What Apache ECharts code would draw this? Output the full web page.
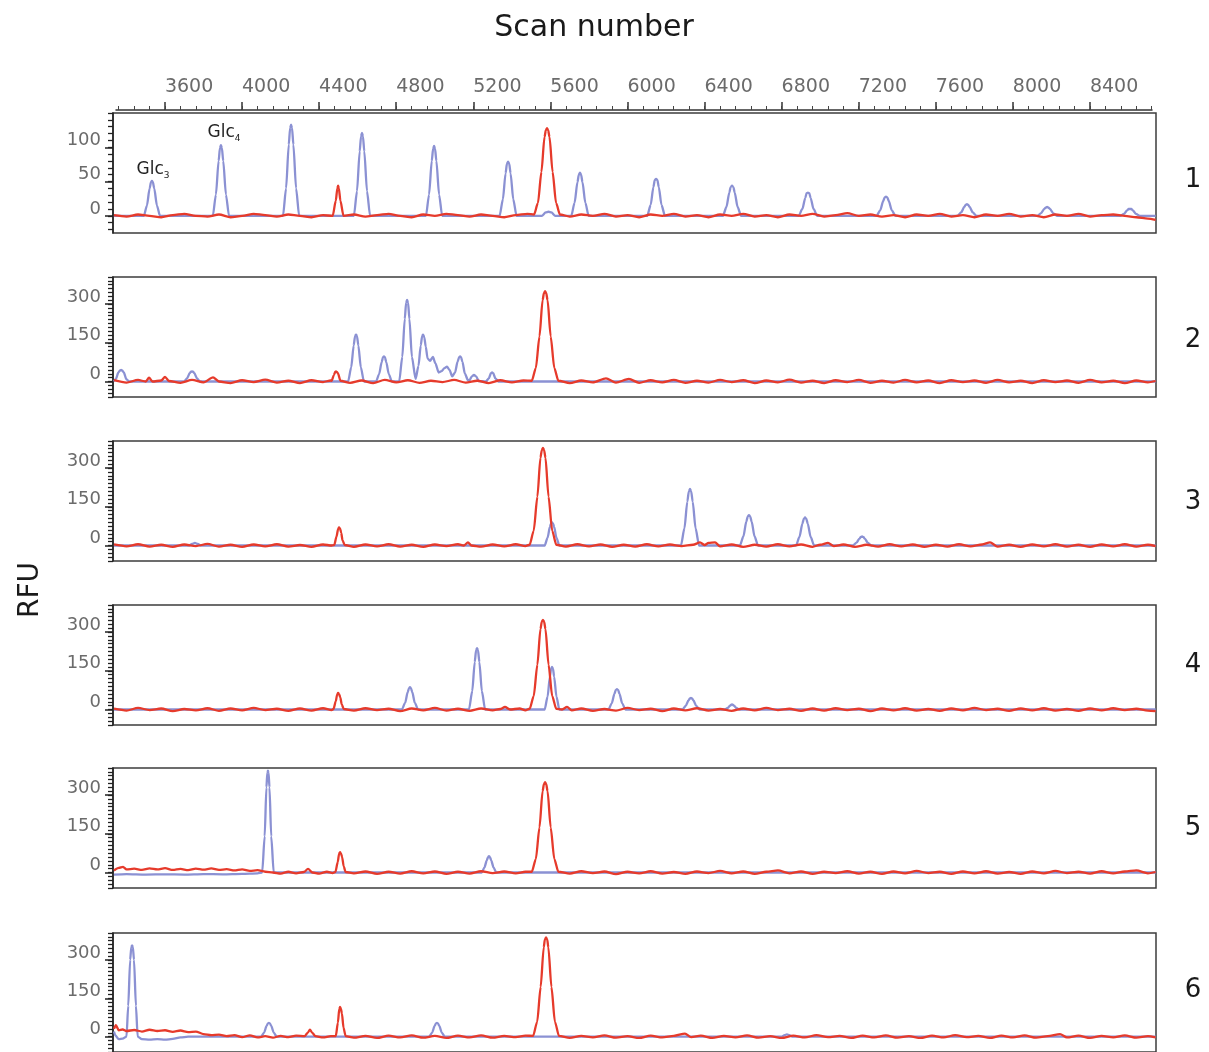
<!DOCTYPE html>
<html>
<head>
<meta charset="utf-8">
<title>Scan number / RFU</title>
<script src="https://cdn.jsdelivr.net/npm/echarts@6/dist/echarts.min.js"></script>
<style>
    html, body { margin: 0; padding: 0; background: #fff; }
    #chart { width: 1209px; height: 1052px; }
</style>
</head>
<body>
<div id="chart"></div>
<script>
// tick labels
var scanTicks = [3600, 4000, 4400, 4800, 5200, 5600, 6000, 6400, 6800, 7200, 7600, 8000, 8400];
var rfuTicks1 = [0, 50, 100];
var rfuTicks = [0, 150, 300];
var panelNames = ['1', '2', '3', '4', '5', '6'];
var peakNames = ['3', '4'];

// [scan, RFU] traces
var blue1 = [[3335,0],
    [3490,0],[3506,15],[3520,40],[3527,49],[3532,51],[3537,49],[3544,40],[3558,15],[3574,0],
    [3848,0],[3864,31],[3878,80],[3885,99],[3890,103],[3895,99],[3902,80],[3916,31],[3932,0],
    [4212,0],[4228,40],[4242,104],[4249,128],[4254,133],[4259,128],[4266,104],[4280,40],[4296,0],
    [4580,0],[4596,36],[4610,94],[4617,116],[4622,121],[4627,116],[4634,94],[4648,36],[4664,0],
    [4954,0],[4970,31],[4984,80],[4991,98],[4996,102],[5001,98],[5008,80],[5022,31],[5038,0],
    [5336,0],[5353,24],[5367,62],[5374,76],[5380,79],[5386,76],[5393,62],[5407,24],[5424,0],
    [5555,0],[5575,5],[5590,6],[5605,5],[5625,0],
    [5708,0],[5725,19],[5740,49],[5747,60],[5753,63],[5759,60],[5766,49],[5781,19],[5798,0],
    [6102,0],[6120,16],[6134,42],[6141,52],[6148,54],[6155,52],[6162,42],[6176,16],[6194,0],
    [6495,0],[6513,13],[6528,34],[6535,42],[6542,44],[6549,42],[6556,34],[6571,13],[6589,0],
    [6888,0],[6907,10],[6922,26],[6929,33],[6936,34],[6943,33],[6950,26],[6965,10],[6984,0],
    [7292,0],[7311,8],[7327,22],[7334,27],[7341,28],[7348,27],[7355,22],[7371,8],[7390,0],
    [7711,0],[7731,5],[7747,13],[7754,16],[7761,17],[7768,16],[7775,13],[7791,5],[7811,0],
    [8126,0],[8146,4],[8162,10],[8170,12],[8177,13],[8184,12],[8192,10],[8208,4],[8228,0],
    [8556,0],[8576,3],[8592,8],[8600,10],[8607,10],[8614,10],[8622,8],[8638,3],[8658,0],
    [8740,0]];
var red1 = [[3335,1],[3400,-1],[3460,2],[3520,0],[3580,-2],[3640,1],[3700,3],[3760,0],[3820,-1],[3880,2],
    [3940,-2],[4000,0],[4060,3],[4120,1],[4180,-1],[4240,2],[4300,0],[4360,-2],[4420,1],
    [4470,0],[4486,22],[4494,40],[4498,44],[4502,40],[4510,22],[4526,0],
    [4580,2],[4640,-1],[4700,1],[4760,3],[4820,0],[4880,-2],[4940,2],[5000,0],[5060,3],[5120,1],
    [5180,-1],[5240,2],[5300,0],[5360,-2],[5420,1],[5480,3],
    [5515,2],[5535,19],[5553,64],[5569,115],[5576,125],[5582,128],[5588,125],[5595,115],[5611,64],[5629,19],[5649,2],
    [5700,-1],[5760,2],[5820,0],[5880,3],[5940,-1],[6000,1],[6060,-2],[6120,2],[6180,0],[6240,3],
    [6300,-1],[6360,1],[6420,-2],[6480,2],[6540,0],[6600,3],[6660,-1],[6720,1],[6780,-2],[6840,2],
    [6900,0],[6960,3],[7020,-1],[7080,1],[7140,4],[7200,0],[7260,2],[7320,-1],[7380,1],[7440,-2],
    [7500,2],[7560,0],[7620,3],[7680,-1],[7740,1],[7800,-2],[7860,2],[7920,0],[7980,3],[8040,-1],
    [8100,1],[8160,-2],[8220,2],[8280,0],[8340,3],[8400,-1],[8460,1],[8520,2],[8580,0],[8640,-2],
    [8700,-4],[8740,-6]];

var blue2 = [[3335,0],[3345,10],[3358,35],[3366,43],[3372,45],[3378,43],[3386,35],[3400,8],[3415,0],
    [3700,0],[3714,12],[3728,32],[3735,38],[3740,39],[3745,38],[3752,32],[3766,12],[3780,0],
    [4550,0],[4566,55],[4579,140],[4586,176],[4591,182],[4596,176],[4603,140],[4616,55],[4632,0],
    [4695,0],[4711,29],[4724,75],[4731,94],[4736,97],[4741,94],[4748,75],[4761,29],[4777,0],
    [4815,0],[4831,95],[4844,243],[4851,306],[4856,316],[4861,306],[4868,243],[4881,95],[4900,10],
    [4915,60],[4927,140],[4934,176],[4939,182],[4945,172],[4953,135],[4962,90],[4975,80],[4990,95],[5003,70],[5020,35],
    [5035,40],[5050,52],[5063,58],[5076,45],[5090,20],[5105,35],[5118,77],[5126,94],[5131,97],[5136,94],[5143,77],
    [5156,30],[5172,5],[5180,5],[5192,20],[5203,26],[5214,20],[5228,2],
    [5265,0],[5280,12],[5291,32],[5297,35],[5303,32],[5314,12],[5330,0],
    [8740,0]];
var red2 = [[3335,5],[3400,-4],[3460,6],[3500,0],[3517,15],[3535,0],[3580,4],[3600,18],[3620,2],
    [3680,-5],[3740,6],[3800,-3],[3849,16],[3880,0],[3940,-6],[4000,5],[4060,-2],[4120,7],[4180,-4],
    [4240,3],[4300,-6],[4360,5],[4420,-2],[4460,4],
    [4465,3],[4476,25],[4483,37],[4487,39],[4492,37],[4498,30],[4510,3],
    [4560,-5],[4620,4],[4680,-6],[4740,6],[4800,-3],[4860,5],[4920,-5],[4980,3],[5040,-2],[5100,6],
    [5160,-4],[5220,3],[5280,-6],[5340,5],[5400,-3],[5460,4],
    [5503,3],[5524,52],[5543,175],[5559,315],[5566,342],[5572,350],[5578,342],[5585,315],[5601,175],[5620,52],[5641,3],
    [5700,-6],[5760,4],[5820,-3],[5888,12],[5940,-4],[6007,10],[6060,-5],[6120,5],[6180,-3],[6240,6],
    [6300,-5],[6360,3],[6420,-4],[6480,6],[6540,-2],[6600,5],[6660,-6],[6720,4],[6780,-3],[6840,7],
    [6900,-4],[6960,3],[7020,-6],[7080,5],[7140,-2],[7200,6],[7260,-5],[7320,3],[7380,-4],[7440,6],
    [7500,-3],[7560,4],[7620,-6],[7680,5],[7740,-2],[7800,4],[7860,-5],[7920,6],[7980,-3],[8040,3],
    [8100,-6],[8160,5],[8220,-2],[8280,4],[8340,-5],[8400,6],[8460,-3],[8520,3],[8580,-6],[8640,4],
    [8700,-3],[8740,2]];

var blue3 = [[3335,0],[3725,0],[3740,6],[3755,10],[3770,6],[3785,0],
    [5570,0],[5585,30],[5597,72],[5603,86],[5608,90],[5613,86],[5619,72],[5631,30],[5646,0],
    [6277,0],[6295,66],[6310,170],[6318,210],[6324,219],[6330,210],[6338,170],[6353,66],[6371,0],
    [6583,0],[6601,35],[6616,92],[6624,113],[6630,118],[6636,113],[6644,92],[6659,35],[6677,0],
    [6874,0],[6892,33],[6907,85],[6915,104],[6921,109],[6927,104],[6935,85],[6950,33],[6968,0],
    [7170,0],[7188,11],[7203,27],[7211,33],[7217,35],[7223,33],[7231,27],[7246,11],[7264,0],
    [8740,0]];
var red3 = [[3335,4],[3400,-3],[3460,5],[3520,-4],[3580,3],[3640,-5],[3700,4],[3760,-2],[3820,6],
    [3880,-4],[3940,3],[4000,-5],[4060,4],[4120,-3],[4180,5],[4240,-4],[4300,2],[4360,-5],[4420,4],
    [4465,0],[4478,2],[4490,35],[4498,64],[4503,70],[4508,66],[4514,50],[4521,20],[4532,2],
    [4580,-5],[4640,4],[4700,-3],[4760,5],[4820,-4],[4880,3],[4940,-5],[5000,4],[5060,-2],[5120,5],
    [5150,0],[5172,12],[5190,0],[5240,-4],[5300,4],[5360,-3],[5420,5],[5470,-2],
    [5492,3],[5513,57],[5532,189],[5548,340],[5555,370],[5561,378],[5567,370],[5574,340],[5590,189],[5609,57],[5630,3],
    [5680,-4],[5740,5],[5800,-3],[5860,4],[5920,-5],[5980,3],[6040,-4],[6100,5],[6160,-3],[6220,4],
    [6280,-2],[6340,3],[6376,12],[6400,2],[6420,10],[6454,12],[6480,-3],[6540,4],[6600,-5],[6660,3],
    [6720,-4],[6780,5],[6840,-3],[6900,4],[6960,-5],[7000,3],[7040,10],[7070,-2],[7120,4],[7180,-5],
    [7240,3],[7300,-4],[7360,5],[7420,-3],[7480,4],[7540,-5],[7600,3],[7660,-4],[7720,5],[7780,-3],
    [7840,4],[7881,12],[7920,-4],[7980,3],[8040,-5],[8100,4],[8160,-3],[8220,5],[8280,-4],[8340,3],
    [8400,-5],[8460,4],[8520,-3],[8580,5],[8640,-4],[8700,3],[8740,-2]];

var blue4 = [[3335,0],
    [4829,0],[4846,26],[4859,67],[4866,83],[4871,87],[4876,83],[4883,67],[4896,26],[4913,0],
    [5177,0],[5194,71],[5207,184],[5214,230],[5219,238],[5224,230],[5231,184],[5244,71],[5261,0],
    [5570,0],[5585,50],[5597,127],[5603,158],[5608,165],[5613,158],[5619,127],[5631,50],[5646,0],
    [5901,0],[5918,24],[5932,61],[5939,76],[5945,79],[5951,76],[5958,61],[5972,24],[5989,0],
    [6285,0],[6302,14],[6316,35],[6323,43],[6329,45],[6335,43],[6342,35],[6356,14],[6373,0],
    [6505,0],[6520,6],[6531,15],[6542,20],[6553,15],[6564,6],[6579,0],
    [8740,0]];
var red4 = [[3335,3],[3400,-4],[3460,6],[3520,-2],[3580,4],[3640,-6],[3700,2],[3760,-3],[3820,5],
    [3880,-5],[3940,4],[4000,-3],[4060,6],[4120,-2],[4180,3],[4240,-5],[4300,4],[4360,-4],[4420,5],
    [4465,-2],[4474,2],[4486,32],[4493,58],[4498,64],[4503,60],[4509,48],[4517,20],[4527,2],
    [4580,-4],[4640,5],[4700,-2],[4760,3],[4820,-6],[4880,4],[4940,-3],[5000,6],[5060,-4],[5120,3],
    [5180,-5],[5240,4],[5300,-3],[5340,2],[5364,10],[5390,0],[5440,4],[5470,-3],
    [5492,3],[5513,52],[5532,174],[5548,312],[5555,340],[5561,347],[5567,340],[5574,312],[5590,174],[5609,52],[5630,3],
    [5660,0],[5686,10],[5710,-3],[5760,4],[5820,-5],[5880,2],[5940,-4],[6000,6],[6060,-2],[6120,3],
    [6180,-6],[6240,4],[6300,-3],[6360,5],[6420,-4],[6480,2],[6540,-5],[6600,4],[6660,-3],[6720,6],
    [6780,-2],[6840,3],[6900,-5],[6960,4],[7020,-4],[7080,5],[7140,-2],[7200,3],[7260,-6],[7320,4],
    [7380,-3],[7440,5],[7500,-4],[7560,2],[7620,-5],[7680,4],[7740,-3],[7800,6],[7860,-2],[7920,3],
    [7980,-5],[8040,4],[8100,-3],[8160,5],[8220,-4],[8280,2],[8340,-5],[8400,4],[8460,-3],[8520,5],
    [8580,-2],[8640,3],[8700,-4],[8740,-6]];

var blue5 = [[3335,-8],[3400,-6],[3500,-8],[3600,-7],[3700,-8],[3800,-6],[3900,-7],[4000,-5],[4080,-3],
    [4104,0],[4117,140],[4126,330],[4131,388],[4134,395],[4137,388],[4142,330],[4151,140],[4164,0],
    [4240,0],
    [5243,0],[5257,19],[5270,48],[5276,60],[5281,63],[5286,60],[5292,48],[5305,19],[5319,0],
    [8740,0]];
var red5 = [[3335,8],[3360,18],[3382,22],[3400,12],[3440,15],[3480,10],[3520,16],[3560,12],[3600,17],
    [3640,10],[3680,14],[3720,9],[3760,15],[3800,11],[3840,16],[3880,10],[3920,13],[3960,8],[4000,12],
    [4040,6],[4080,9],[4120,3],[4160,0],[4200,-4],[4240,3],[4280,-3],[4320,2],[4342,14],[4365,0],
    [4400,-4],[4440,3],[4470,-2],
    [4484,2],[4496,40],[4503,72],[4508,79],[4513,74],[4519,60],[4527,24],[4537,2],
    [4580,-3],[4640,4],[4700,-5],[4760,3],[4820,-4],[4880,5],[4940,-3],[5000,4],[5060,-5],[5120,3],
    [5180,-4],[5240,5],[5300,-2],[5360,4],[5420,-3],[5470,3],
    [5503,3],[5524,52],[5543,175],[5559,315],[5566,342],[5572,350],[5578,342],[5585,315],[5601,175],[5620,52],[5641,3],
    [5700,-4],[5760,5],[5820,-2],[5880,4],[5940,-6],[6000,3],[6060,-3],[6120,5],[6180,-4],[6240,2],
    [6300,-5],[6360,4],[6420,-2],[6480,6],[6540,-3],[6600,4],[6660,-5],[6720,3],[6780,8],[6840,-3],
    [6900,4],[6960,-5],[7020,3],[7080,-2],[7140,5],[7200,-4],[7260,3],[7320,-5],[7380,4],[7440,-3],
    [7500,6],[7560,-2],[7620,3],[7680,-5],[7740,4],[7800,-3],[7860,5],[7920,-4],[7980,2],[8040,-5],
    [8100,4],[8160,-3],[8220,6],[8280,-2],[8340,3],[8400,-4],[8460,5],[8520,-3],[8580,4],[8640,8],
    [8700,-3],[8740,2]];

var blue6 = [[3335,20],[3342,5],[3360,-10],[3380,-8],[3400,0],
    [3409,120],[3419,300],[3425,350],[3429,357],[3433,350],[3439,300],[3449,120],[3458,0],
    [3480,-10],[3520,-12],[3560,-10],[3600,-12],[3640,-9],[3680,-3],[3720,0],
    [4099,0],[4114,16],[4127,42],[4134,52],[4139,54],[4144,52],[4151,42],[4164,16],[4179,0],
    [4971,0],[4986,16],[4999,42],[5006,52],[5011,54],[5016,52],[5023,42],[5036,16],[5051,0],
    [6800,0],[6815,6],[6827,9],[6839,6],[6854,0],
    [8740,0]];
var red6 = [[3335,30],[3345,45],[3360,25],[3380,28],[3400,22],[3440,26],[3480,20],[3520,27],[3560,22],
    [3600,25],[3640,19],[3680,24],[3720,18],[3760,20],[3800,10],[3840,6],[3880,8],[3920,2],[3960,6],
    [4000,-2],[4040,5],[4080,-3],[4120,2],[4160,-4],[4200,3],[4240,-2],[4280,4],[4325,2],
    [4340,15],[4352,27],[4364,15],[4380,2],[4420,-3],[4460,2],
    [4486,2],[4497,55],[4504,108],[4508,116],[4512,110],[4518,90],[4526,35],[4537,2],
    [4580,-4],[4640,3],[4700,-5],[4760,4],[4820,-3],[4880,5],[4940,-4],[5000,3],[5060,-5],[5120,4],
    [5180,-3],[5240,5],[5300,-4],[5360,3],[5420,-2],[5470,4],
    [5510,3],[5531,58],[5549,194],[5565,349],[5571,380],[5577,388],[5583,380],[5589,349],[5605,194],[5623,58],[5644,3],
    [5700,-5],[5760,3],[5820,-3],[5880,5],[5940,-4],[6000,2],[6060,-5],[6120,4],[6180,-3],[6240,3],
    [6298,12],[6330,-2],[6380,4],[6440,-5],[6500,3],[6560,-3],[6620,5],[6680,-4],[6740,2],[6800,-5],
    [6860,4],[6920,-3],[6980,6],[7040,-2],[7100,3],[7160,-5],[7220,4],[7280,-3],[7340,5],[7400,-4],
    [7460,2],[7520,-5],[7580,4],[7640,-3],[7700,6],[7760,-2],[7820,3],[7880,-5],[7940,4],[8000,-3],
    [8060,5],[8120,-4],[8180,2],[8244,10],[8280,-3],[8340,4],[8400,-5],[8460,3],[8520,-3],[8580,5],
    [8640,-4],[8700,2],[8740,-3]];

var blueTraces = [blue1, blue2, blue3, blue4, blue5, blue6];
var redTraces = [red1, red2, red3, red4, red5, red6];

// layout
var panelTop = [113, 277, 441, 605, 768, 933];
var panelH = 120;
var plotLeft = 113, plotRight = 53;
var scanMin = 3330, scanMax = 8742;
var blueColor = '#8b91d3', redColor = '#e63a2b';
var labelFont = 'DejaVu Sans';

var minorScan = [];
for (var s = 3360; s <= 8720; s += 80) minorScan.push(s);

var grids = [], xAxes = [], yAxes = [], series = [];

// top ruler: major ticks + labels, then minor ticks
grids.push({ left: 116, right: 57, top: 109, height: 1 });
grids.push({ left: 116, right: 57, top: 109, height: 1 });
xAxes.push({
    gridIndex: 0, type: 'value', position: 'top', min: 3346, max: 8722,
    axisLine: { show: true, lineStyle: { color: '#333', width: 1.5 } },
    axisTick: { show: true, customValues: scanTicks, length: 8, lineStyle: { color: '#333', width: 1.5 } },
    axisLabel: { customValues: scanTicks, align: 'left', margin: 12, fontSize: 19, color: '#6b6b6b',
        fontFamily: labelFont, formatter: function (v) { return String(v); } },
    splitLine: { show: false }
});
xAxes.push({
    gridIndex: 1, type: 'value', position: 'top', min: 3346, max: 8722,
    axisLine: { show: false },
    axisTick: { show: true, customValues: minorScan, length: 4, lineStyle: { color: '#444', width: 1 } },
    axisLabel: { show: false }, splitLine: { show: false }
});
yAxes.push({ gridIndex: 0, show: false, min: 0, max: 1 });
yAxes.push({ gridIndex: 1, show: false, min: 0, max: 1 });

for (var i = 0; i < 6; i++) {
    var small = i === 0;
    var yMin = small ? -25 : -60, yMax = small ? 150 : 405;
    var major = small ? rfuTicks1 : rfuTicks;
    var step = small ? 10 : 15;
    var minor = [];
    for (var v = Math.ceil(yMin / step) * step; v <= yMax; v += step) minor.push(v);

    var g = grids.length;
    grids.push({ left: plotLeft, right: plotRight, top: panelTop[i], height: panelH,
        show: true, borderColor: '#3c3c3c', borderWidth: 1.5 });
    grids.push({ left: plotLeft, right: plotRight, top: panelTop[i], height: panelH });

    xAxes.push({ gridIndex: g, type: 'value', min: scanMin, max: scanMax, show: false });
    xAxes.push({ gridIndex: g + 1, type: 'value', min: scanMin, max: scanMax, show: false });

    yAxes.push({
        gridIndex: g, type: 'value', position: 'left', min: yMin, max: yMax,
        axisLine: { show: false },
        axisTick: { show: true, customValues: minor, length: 5, lineStyle: { color: '#222', width: 1.3 } },
        axisLabel: { customValues: major, margin: 12, fontSize: 18, color: '#6b6b6b', fontFamily: labelFont,
            verticalAlign: 'bottom', lineHeight: 14 },
        splitLine: { show: false }
    });
    yAxes.push({
        gridIndex: g + 1, type: 'value', position: 'left', min: yMin, max: yMax,
        axisLine: { show: true, lineStyle: { color: '#222', width: 1.5 } },
        axisTick: { show: true, customValues: major, length: 8, lineStyle: { color: '#222', width: 1.5 } },
        axisLabel: { show: false }, splitLine: { show: false }
    });

    var blueSeries = {
        type: 'line', name: 'blue' + (i + 1), xAxisIndex: g, yAxisIndex: g,
        data: blueTraces[i], showSymbol: false, symbol: 'none',
        smooth: 0.25, smoothMonotone: 'x',
        lineStyle: { color: blueColor, width: 2.3 }, z: 2
    };
    if (i === 0) {
        blueSeries.markPoint = {
            symbol: 'circle', symbolSize: 1, itemStyle: { color: 'rgba(0,0,0,0)' },
            label: {
                show: true, position: 'inside',
                formatter: function (p) { return '{a|Glc}{s|' + p.name + '}'; },
                rich: {
                    a: { fontSize: 17, lineHeight: 20, color: '#222', fontFamily: labelFont, verticalAlign: 'middle' },
                    s: { fontSize: 9, lineHeight: 9, color: '#222', fontFamily: labelFont, verticalAlign: 'bottom' }
                }
            },
            data: [
                { name: peakNames[0], coord: [3538, 67] },
                { name: peakNames[1], coord: [3906, 121] }
            ]
        };
    }
    series.push(blueSeries);
    series.push({
        type: 'line', name: 'red' + (i + 1), xAxisIndex: g, yAxisIndex: g,
        data: redTraces[i], showSymbol: false, symbol: 'none',
        smooth: 0.25, smoothMonotone: 'x',
        lineStyle: { color: redColor, width: 2.3 }, z: 3
    });
}

var numberY = [180, 340, 502, 665, 828, 990];
var graphics = [
    { type: 'text', x: 594, y: 28, style: { text: 'Scan number', font: '30px "DejaVu Sans"', fill: '#1a1a1a', align: 'center', verticalAlign: 'middle' } },
    { type: 'text', x: 31, y: 590, rotation: Math.PI / 2, style: { text: 'RFU', font: '28px "DejaVu Sans"', fill: '#1a1a1a', align: 'center', verticalAlign: 'middle' } }
];
for (var k = 0; k < 6; k++) {
    graphics.push({ type: 'text', x: 1193, y: numberY[k],
        style: { text: panelNames[k], font: '26px "DejaVu Sans"', fill: '#1a1a1a', align: 'center', verticalAlign: 'middle' } });
}

var myChart = echarts.init(document.getElementById('chart'));
myChart.setOption({
    animation: false,
    backgroundColor: '#fff',
    grid: grids,
    xAxis: xAxes,
    yAxis: yAxes,
    series: series,
    graphic: graphics
});
</script>
</body>
</html>
